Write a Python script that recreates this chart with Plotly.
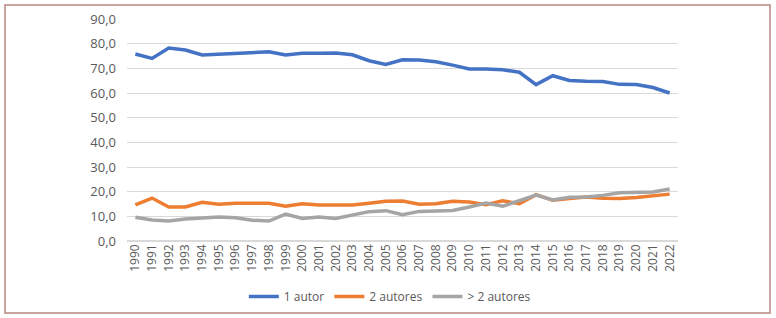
import plotly.graph_objects as go

years = [str(y) for y in range(1990, 2023)]
autor1 = [75.8, 74.0, 78.2, 77.4, 75.4, 75.8, 75.9, 76.6, 76.7, 75.4, 76.1, 76.1, 76.2, 75.5,
          73.1, 71.6, 73.5, 73.4, 72.7, 71.3, 69.7, 69.7, 69.4, 68.4, 63.4, 67.0, 65.1, 64.8,
          64.7, 63.5, 63.4, 62.2, 60.0]
autores2 = [14.6, 17.4, 13.8, 13.8, 15.7, 14.9, 15.3, 15.3, 15.3, 14.1, 15.1, 14.6, 14.7, 14.6,
            15.3, 16.1, 16.2, 14.9, 15.1, 16.1, 15.8, 14.7, 16.3, 15.1, 18.8, 16.5, 17.2, 17.8,
            17.3, 17.2, 17.6, 18.4, 19.0]
autores_mas2 = [9.6, 8.5, 8.1, 8.9, 9.3, 9.7, 9.4, 8.4, 8.1, 10.9, 9.1, 9.7, 9.1, 10.4,
                11.9, 12.3, 10.7, 12.0, 12.2, 12.4, 13.8, 15.4, 14.1, 16.3, 18.6, 16.6, 17.7, 17.8,
                18.5, 19.6, 19.6, 19.9, 21.1]

series = [("1 autor", autor1, "#4472C4"),
          ("2 autores", autores2, "#ED7D31"),
          ("> 2 autores", autores_mas2, "#A5A5A5")]

fig = go.Figure()
for name, vals, color in series:
    fig.add_trace(go.Scatter(x=years, y=vals, name=name, mode="lines",
                             line=dict(color=color, width=3.5)))

fig.update_layout(
    width=776, height=318,
    margin=dict(l=127, r=98, t=19, b=77, autoexpand=False),
    paper_bgcolor="white", plot_bgcolor="white",
    separators=", ",
    font=dict(family="Open Sans, Arial, sans-serif", size=11, color="#595959"),
    showlegend=True,
    legend=dict(orientation="h", x=0.477, xanchor="center", y=-0.25, yanchor="middle",
                font=dict(size=12, color="#595959"), itemwidth=30,
                bgcolor="rgba(0,0,0,0)"),
    shapes=[dict(type="rect", xref="paper", yref="paper",
                 x0=-0.2214, x1=1.167, y0=-0.324, y1=1.063,
                 line=dict(color="#B98783", width=1.5), fillcolor="rgba(0,0,0,0)")],
)
fig.update_xaxes(type="category", range=[-0.5, 32.5], tickangle=-90, automargin=False,
                 showgrid=False, showline=False, ticks="", tickfont=dict(size=12))
fig.update_yaxes(range=[0, 90], dtick=10, tickformat=".1f", showgrid=True, automargin=False,
                 gridcolor="#D9D9D9", gridwidth=1, zeroline=True, zerolinecolor="#D9D9D9",
                 showline=False, ticks="", ticklabelstandoff=10, tickfont=dict(size=13))

fig.write_html("out.html", config={"displayModeBar": False},
               post_script="document.body.style.margin='0';document.body.style.overflow='hidden';")
